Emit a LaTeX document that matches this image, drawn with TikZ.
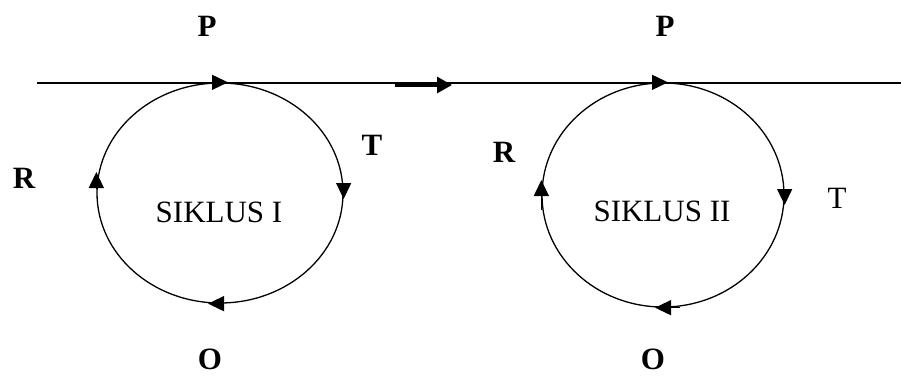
\documentclass[tikz,border=0pt]{standalone}
\usepackage{fontspec}
\setmainfont{Liberation Serif}
\usetikzlibrary{arrows.meta,shapes.geometric}
\begin{document}
\begin{tikzpicture}[x=1pt,y=-1pt,
  lbl/.style={font=\fontsize{31}{36}\selectfont, inner sep=0pt},
  blbl/.style={font=\fontsize{31}{36}\selectfont\bfseries, inner sep=0pt},
  cyc/.style={draw, ellipse, line width=1.3pt, inner sep=0pt},
  tip/.style={line width=1.3pt, -{Triangle[length=16pt,width=15pt]}},
  bigtip/.style={line width=3pt, -{Triangle[length=15pt,width=16pt]}}]
\useasboundingbox (0,0) rectangle (901,376);
% main line
\coordinate (L) at (37,83);
\coordinate (Rr) at (901,83);
\draw[line width=1.3pt] (L) -- (Rr);
% middle arrow
\coordinate (m1) at (395,85);
\coordinate (m2) at (452,85);
\draw[bigtip] (m1) -- (m2);
% cycles
\node[cyc, minimum width=246pt, minimum height=220pt] (c1) at (220,193) {};
\node[cyc, minimum width=242pt, minimum height=224pt] (c2) at (663,195) {};
% arrows on cycle I
\draw[tip] ([xshift=-7pt]c1.north) -- ([xshift=8pt]c1.north);
\draw[tip] ([yshift=10pt]c1.east) -- ([yshift=-6pt]c1.east);
\draw[tip] ([xshift=3pt]c1.south) -- ([xshift=-12pt]c1.south);
\draw[tip] ([yshift=5pt]c1.west) -- ([yshift=21pt]c1.west);
% arrows on cycle II
\draw[tip] ([xshift=-10pt]c2.north) -- ([xshift=5pt]c2.north);
\draw[tip] ([yshift=5pt]c2.east) -- ([yshift=-10pt]c2.east);
\draw[tip] ([xshift=17pt]c2.south) -- ([xshift=-8pt]c2.south);
\draw[tip] ([yshift=-15pt]c2.west) -- ([yshift=15pt]c2.west);
% labels
\node[blbl] (p1) at (207,26) {P};
\node[blbl] (p2) at (665,26) {P};
\node[blbl] (t1) at (372,145) {T};
\node[blbl] (r1) at (24,178) {R};
\node[blbl] (r2) at (504,152) {R};
\node[lbl]  (t2) at (837,198) {T};
\node[blbl] (o1) at (210,359) {O};
\node[blbl] (o2) at (653,359) {O};
\node[lbl] (s1) at (219,212) {SIKLUS I};
\node[lbl] (s2) at (662,211) {SIKLUS II};
\end{tikzpicture}
\end{document}
